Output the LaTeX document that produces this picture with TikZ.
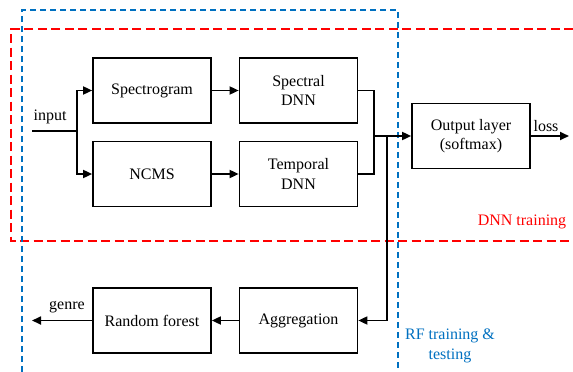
\documentclass[tikz,border=0pt]{standalone}
\usepackage{fontspec}
\setmainfont{Liberation Serif}
\usetikzlibrary{arrows.meta}
\definecolor{rfblue}{RGB}{0,112,192}
\definecolor{dnnred}{RGB}{255,0,0}
\begin{document}
\begin{tikzpicture}[x=1pt,y=-1pt,
  blk/.style={draw,line width=1.7pt,minimum width=118pt,minimum height=65pt,inner sep=0pt,align=center,font=\fontsize{16}{19.5}\selectfont},
  conn/.style={line width=1.7pt},
  arr/.style={line width=1.7pt,-{Triangle[length=9pt,width=8pt]}},
  lbl/.style={font=\fontsize{16}{19.5}\selectfont,inner sep=0pt},
]
\useasboundingbox (0,0) rectangle (573,372);
% regions
\draw[dnnred,line width=1.8pt,dash pattern=on 9pt off 4.5pt] (573,29) -- (11,29) -- (11,241) -- (573,241);
\draw[rfblue,line width=1.8pt,dash pattern=on 6pt off 4pt] (22,372) -- (22,10) -- (398,10) -- (398,372);
\node[lbl,text=dnnred] (dnnlbl) at (522,222) {DNN training};
\node[lbl,text=rfblue,align=center] (rflbl) at (450,346) {RF training \&\\testing};
% blocks
\node[blk] (spec) at (152,90.5) {Spectrogram};
\node[blk] (ncms) at (152,174) {NCMS};
\node[blk] (sdnn) at (298.5,90.5) {Spectral\\DNN};
\node[blk] (tdnn) at (298.5,174) {Temporal\\DNN};
\node[blk] (out) at (471,136) {Output layer\\(softmax)};
\node[blk] (rf) at (152,320.5) {Random forest};
\node[blk] (agg) at (298.5,320.5) {Aggregation};
% coordinates
\coordinate (in) at (32,131);
\coordinate (split) at (77,131);
\coordinate (merge) at (374,136);
\coordinate (tap) at (387,136);
\coordinate (lossend) at (569,136);
\coordinate (genreend) at (32,320.5);
% connectors
\draw[conn] (in) -- (split);
\draw[arr] (split) |- (spec.west);
\draw[arr] (split) |- (ncms.west);
\draw[arr] (spec) -- (sdnn);
\draw[arr] (ncms) -- (tdnn);
\draw[conn] (sdnn.east) -| (merge) |- (tdnn.east);
\draw[arr] (merge) -- (out.west);
\draw[arr] (tap) |- (agg.east);
\draw[arr] (out.east) -- (lossend);
\draw[arr] (agg) -- (rf);
\draw[arr] (rf.west) -- (genreend);
% labels
\node[lbl] (inputlbl) at (50,117) {input};
\node[lbl] (losslbl) at (546,126) {loss};
\node[lbl] (genrelbl) at (67,307) {genre};
\end{tikzpicture}
\end{document}
